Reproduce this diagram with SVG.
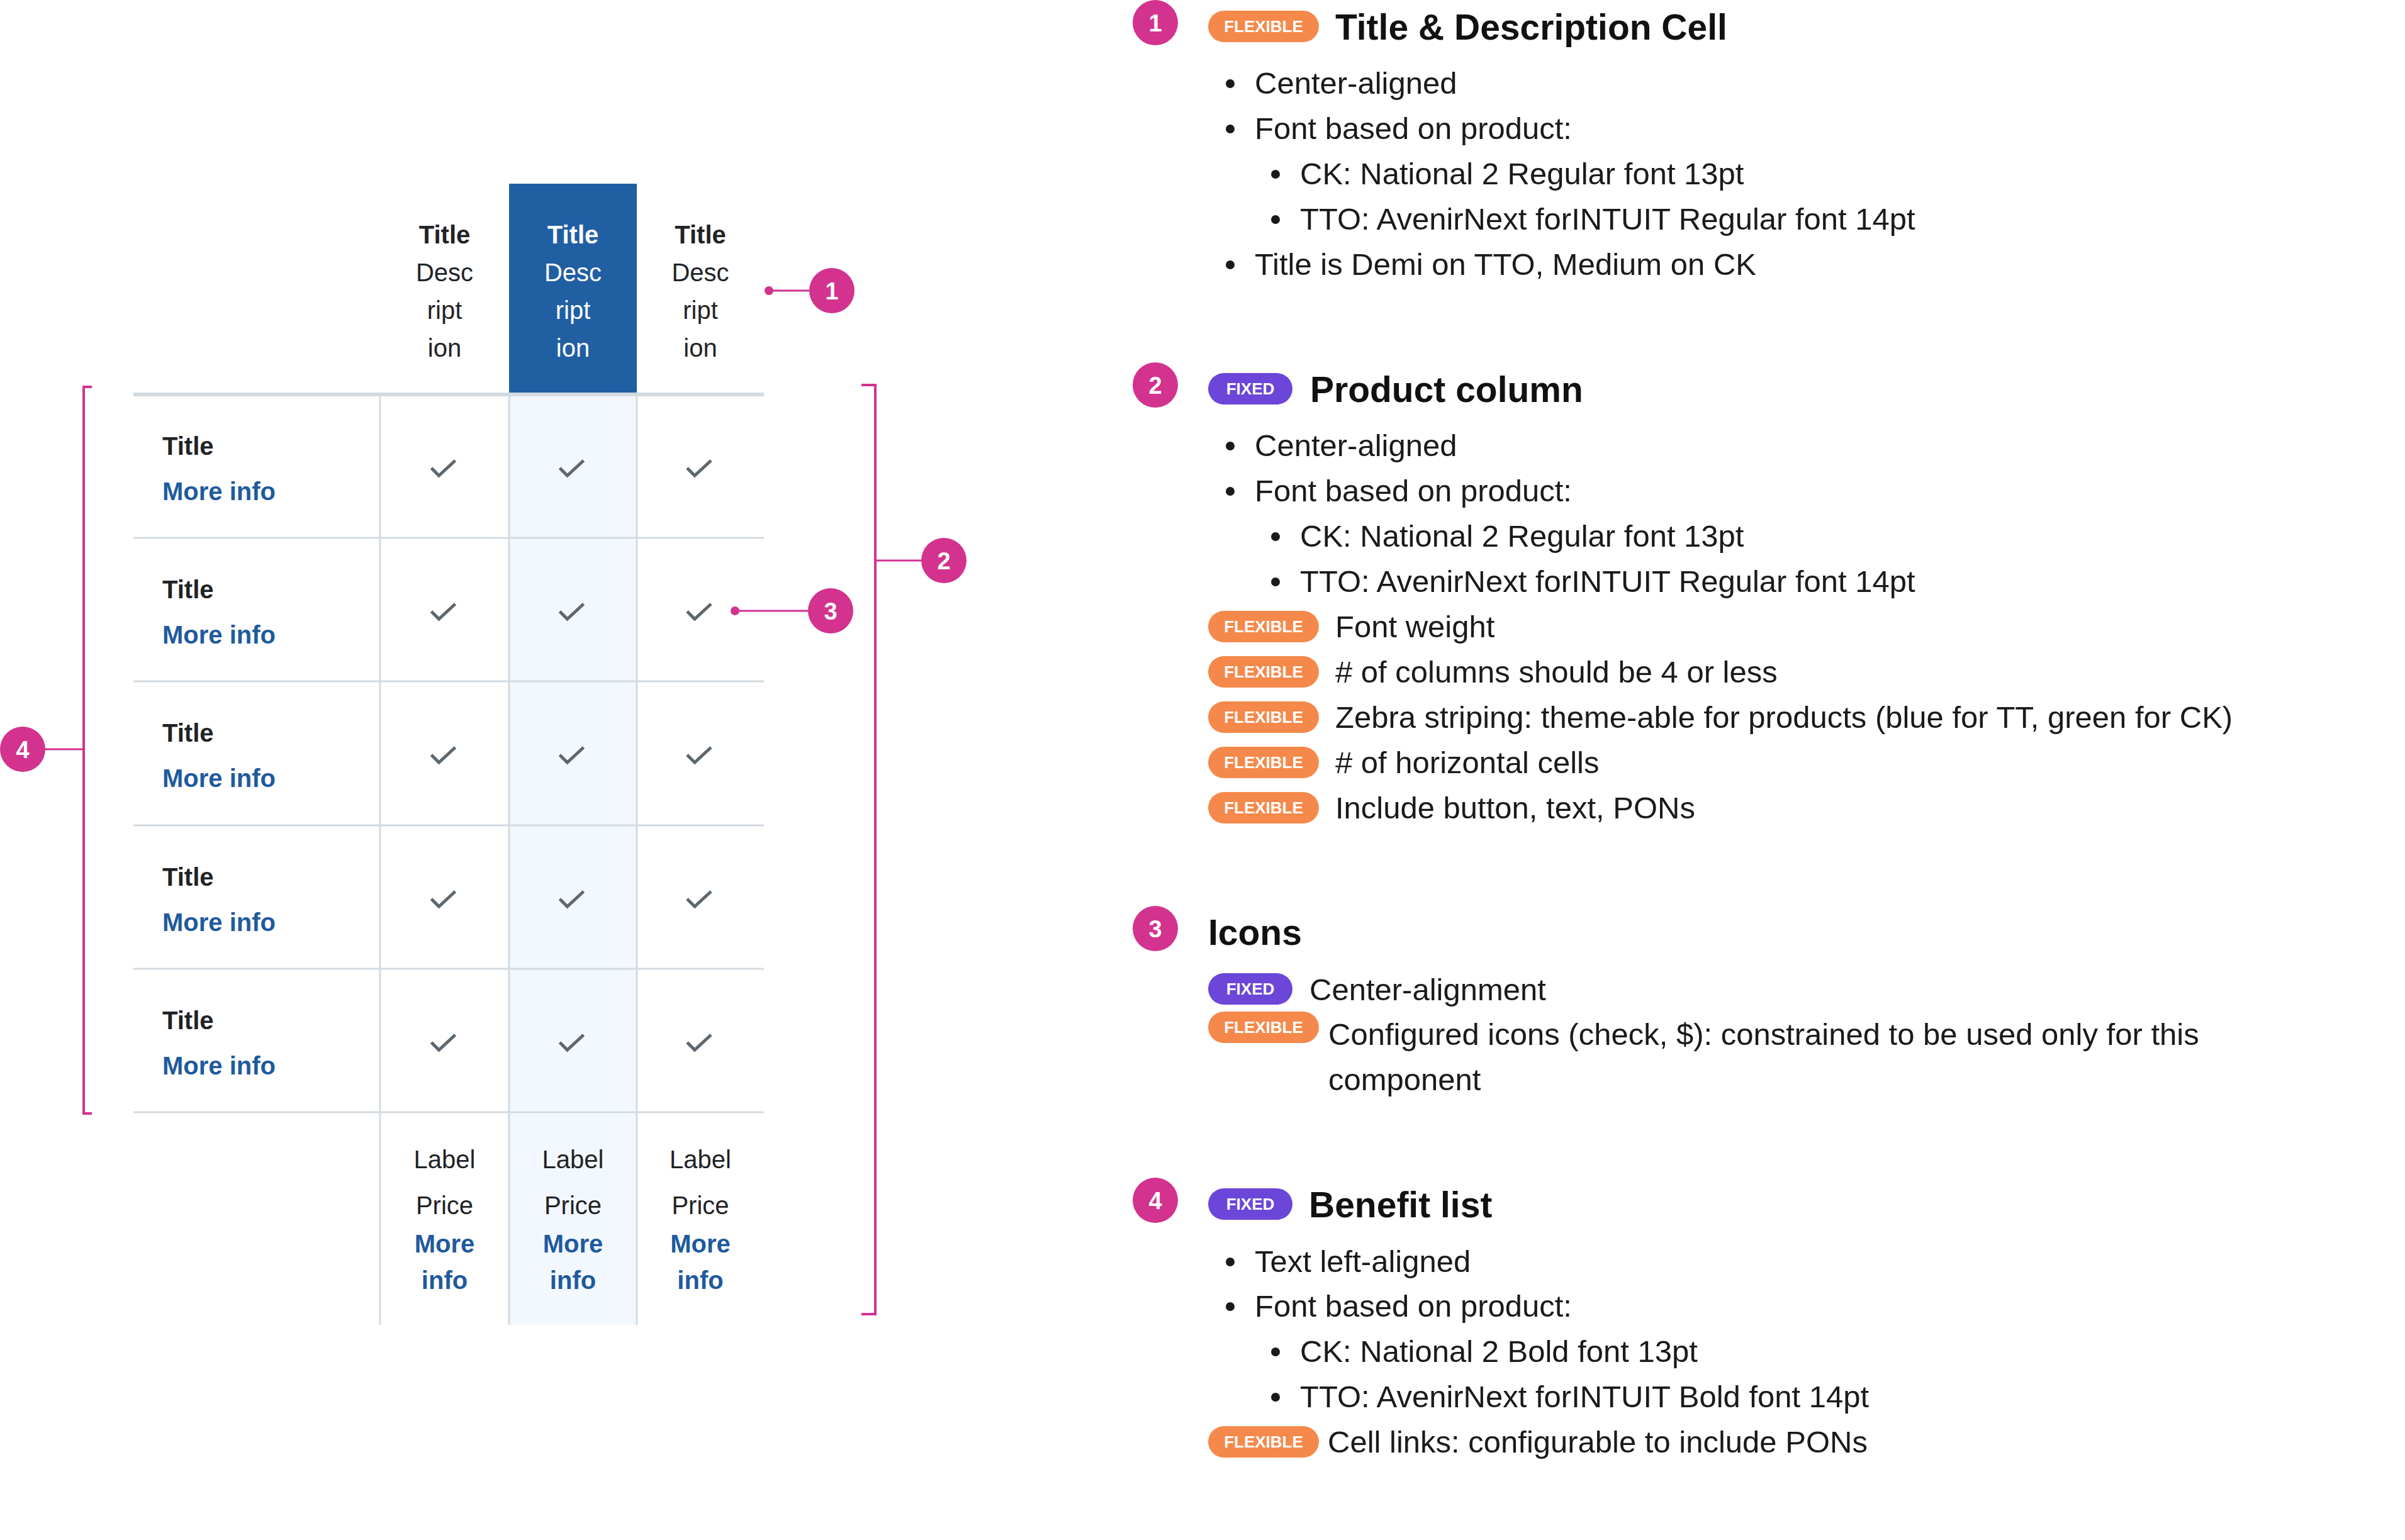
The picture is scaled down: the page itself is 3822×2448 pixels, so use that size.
<svg xmlns="http://www.w3.org/2000/svg" width="3822" height="2448" viewBox="0 0 3822 2448">
<defs>
<style>
text{font-family:"Liberation Sans",Arial,sans-serif}
.hd{font-size:40px;font-weight:700;fill:#1f2326;text-anchor:middle}
.ds{font-size:40px;fill:#1f2326;text-anchor:middle}
.w{fill:#ffffff}
.rt{font-size:40px;font-weight:700;fill:#1f2326}
.mi{font-size:40px;font-weight:700;fill:#1f5a9e}
.mic{font-size:40px;font-weight:700;fill:#1f5a9e;text-anchor:middle}
.grid{stroke:#d3dbe1;stroke-width:3;fill:none}
.chk{stroke:#5d6770;stroke-width:5;fill:none}
.pk{stroke:#d3328f;fill:none;stroke-width:3}
.pkf{fill:#d3328f}
.num{font-size:38px;font-weight:700;fill:#ffffff;text-anchor:middle}
.flex{fill:#f5894b}
.fix{fill:#6b46d8}
.bt{font-size:26px;font-weight:700;fill:#ffffff;text-anchor:middle}
.h2{font-size:57px;font-weight:700;fill:#111111}
.b{font-size:49px;fill:#1a1a1a}
.dot{fill:#1a1a1a}
</style>
<path id="chk" class="chk" d="M-21 3 L-9 15 L17 -9"/>
</defs>
<rect width="3822" height="2448" fill="#ffffff"/>

<g id="table">
  <rect x="809" y="292" width="203" height="335" fill="#215fa3"/>
  <rect x="809" y="627" width="203" height="1479" fill="#f3f8fe"/>
  <g id="grid">
    <line class="grid" x1="212" y1="627" x2="1214" y2="627" style="stroke-width:6"/>
    <line class="grid" x1="212" y1="855" x2="1214" y2="855"/>
    <line class="grid" x1="212" y1="1083" x2="1214" y2="1083"/>
    <line class="grid" x1="212" y1="1312" x2="1214" y2="1312"/>
    <line class="grid" x1="212" y1="1540" x2="1214" y2="1540"/>
    <line class="grid" x1="212" y1="1768" x2="1214" y2="1768"/>
    <line class="grid" x1="604" y1="627" x2="604" y2="2106"/>
    <line class="grid" x1="809" y1="627" x2="809" y2="2106"/>
    <line class="grid" x1="1012" y1="627" x2="1012" y2="2106"/>
  </g>
  <g id="header">
    <text class="hd" x="706.5" y="387">Title</text>
    <text class="ds" x="706.5" y="447">Desc</text>
    <text class="ds" x="706.5" y="507">ript</text>
    <text class="ds" x="706.5" y="567">ion</text>
    <text class="hd w" x="910.5" y="387">Title</text>
    <text class="ds w" x="910.5" y="447">Desc</text>
    <text class="ds w" x="910.5" y="507">ript</text>
    <text class="ds w" x="910.5" y="567">ion</text>
    <text class="hd" x="1113" y="387">Title</text>
    <text class="ds" x="1113" y="447">Desc</text>
    <text class="ds" x="1113" y="507">ript</text>
    <text class="ds" x="1113" y="567">ion</text>
  </g>
  <g id="rows">
    <text class="rt" x="258" y="723">Title</text>
    <text class="mi" x="258" y="795">More info</text>
    <text class="rt" x="258" y="951">Title</text>
    <text class="mi" x="258" y="1023">More info</text>
    <text class="rt" x="258" y="1179">Title</text>
    <text class="mi" x="258" y="1251">More info</text>
    <text class="rt" x="258" y="1408">Title</text>
    <text class="mi" x="258" y="1480">More info</text>
    <text class="rt" x="258" y="1636">Title</text>
    <text class="mi" x="258" y="1708">More info</text>
  </g>
  <g id="checks">
    <use href="#chk" x="706.5" y="741"/><use href="#chk" x="910.5" y="741"/><use href="#chk" x="1113" y="741"/>
    <use href="#chk" x="706.5" y="969"/><use href="#chk" x="910.5" y="969"/><use href="#chk" x="1113" y="969"/>
    <use href="#chk" x="706.5" y="1197"/><use href="#chk" x="910.5" y="1197"/><use href="#chk" x="1113" y="1197"/>
    <use href="#chk" x="706.5" y="1426"/><use href="#chk" x="910.5" y="1426"/><use href="#chk" x="1113" y="1426"/>
    <use href="#chk" x="706.5" y="1654"/><use href="#chk" x="910.5" y="1654"/><use href="#chk" x="1113" y="1654"/>
  </g>
  <g id="footer">
    <text class="ds" x="706.5" y="1857">Label</text>
    <text class="ds" x="706.5" y="1930">Price</text>
    <text class="mic" x="706.5" y="1991">More</text>
    <text class="mic" x="706.5" y="2049">info</text>
    <text class="ds" x="910.5" y="1857">Label</text>
    <text class="ds" x="910.5" y="1930">Price</text>
    <text class="mic" x="910.5" y="1991">More</text>
    <text class="mic" x="910.5" y="2049">info</text>
    <text class="ds" x="1113" y="1857">Label</text>
    <text class="ds" x="1113" y="1930">Price</text>
    <text class="mic" x="1113" y="1991">More</text>
    <text class="mic" x="1113" y="2049">info</text>
  </g>
</g>

<g id="connectors">
  <circle class="pkf" cx="1222" cy="462" r="7"/>
  <line class="pk" x1="1222" y1="462" x2="1290" y2="462"/>
  <circle class="pkf" cx="1168" cy="971" r="7"/>
  <line class="pk" x1="1168" y1="971" x2="1286" y2="971"/>
  <path class="pk" d="M1369 612 H1391 V2089 H1369" style="stroke-width:4"/>
  <line class="pk" x1="1391" y1="891" x2="1466" y2="891"/>
  <path class="pk" d="M146 615 H133 V1770 H146" style="stroke-width:4"/>
  <line class="pk" x1="70" y1="1191" x2="133" y2="1191"/>
</g>

<g id="callout-1"><circle class="pkf" cx="1322" cy="462" r="36"/><text class="num" x="1322" y="476">1</text></g>
<g id="callout-2"><circle class="pkf" cx="1500" cy="891" r="36"/><text class="num" x="1500" y="905">2</text></g>
<g id="callout-3"><circle class="pkf" cx="1320" cy="971" r="36"/><text class="num" x="1320" y="985">3</text></g>
<g id="callout-4"><circle class="pkf" cx="36" cy="1191" r="36"/><text class="num" x="36" y="1205">4</text></g>

<g id="note-1">
  <circle class="pkf" cx="1836" cy="36" r="36"/><text class="num" x="1836" y="50">1</text>
  <rect class="flex" x="1920" y="17" width="176" height="50" rx="25"/><text class="bt" x="2008" y="51">FLEXIBLE</text>
  <text class="h2" x="2122" y="63">Title &amp; Description Cell</text>
  <circle class="dot" cx="1955" cy="133" r="7"/><text class="b" x="1994" y="149">Center-aligned</text>
  <circle class="dot" cx="1955" cy="205" r="7"/><text class="b" x="1994" y="221">Font based on product:</text>
  <circle class="dot" cx="2027" cy="277" r="7"/><text class="b" x="2066" y="293">CK: National 2 Regular font 13pt</text>
  <circle class="dot" cx="2027" cy="349" r="7"/><text class="b" x="2066" y="365">TTO: AvenirNext forINTUIT Regular font 14pt</text>
  <circle class="dot" cx="1955" cy="421" r="7"/><text class="b" x="1994" y="437">Title is Demi on TTO, Medium on CK</text>
</g>

<g id="note-2">
  <circle class="pkf" cx="1836" cy="612" r="36"/><text class="num" x="1836" y="626">2</text>
  <rect class="fix" x="1920" y="593" width="134" height="50" rx="25"/><text class="bt" x="1987" y="627">FIXED</text>
  <text class="h2" x="2082" y="639">Product column</text>
  <circle class="dot" cx="1955" cy="709" r="7"/><text class="b" x="1994" y="725">Center-aligned</text>
  <circle class="dot" cx="1955" cy="781" r="7"/><text class="b" x="1994" y="797">Font based on product:</text>
  <circle class="dot" cx="2027" cy="853" r="7"/><text class="b" x="2066" y="869">CK: National 2 Regular font 13pt</text>
  <circle class="dot" cx="2027" cy="925" r="7"/><text class="b" x="2066" y="941">TTO: AvenirNext forINTUIT Regular font 14pt</text>
  <rect class="flex" x="1920" y="971" width="176" height="50" rx="25"/><text class="bt" x="2008" y="1005">FLEXIBLE</text>
  <text class="b" x="2122" y="1013">Font weight</text>
  <rect class="flex" x="1920" y="1043" width="176" height="50" rx="25"/><text class="bt" x="2008" y="1077">FLEXIBLE</text>
  <text class="b" x="2122" y="1085"># of columns should be 4 or less</text>
  <rect class="flex" x="1920" y="1115" width="176" height="50" rx="25"/><text class="bt" x="2008" y="1149">FLEXIBLE</text>
  <text class="b" x="2122" y="1157">Zebra striping: theme-able for products (blue for TT, green for CK)</text>
  <rect class="flex" x="1920" y="1187" width="176" height="50" rx="25"/><text class="bt" x="2008" y="1221">FLEXIBLE</text>
  <text class="b" x="2122" y="1229"># of horizontal cells</text>
  <rect class="flex" x="1920" y="1259" width="176" height="50" rx="25"/><text class="bt" x="2008" y="1293">FLEXIBLE</text>
  <text class="b" x="2122" y="1301">Include button, text, PONs</text>
</g>

<g id="note-3">
  <circle class="pkf" cx="1836" cy="1476" r="36"/><text class="num" x="1836" y="1490">3</text>
  <text class="h2" x="1920" y="1502">Icons</text>
  <rect class="fix" x="1920" y="1547" width="134" height="50" rx="25"/><text class="bt" x="1987" y="1581">FIXED</text>
  <text class="b" x="2081" y="1590">Center-alignment</text>
  <rect class="flex" x="1920" y="1608" width="176" height="50" rx="25"/><text class="bt" x="2008" y="1642">FLEXIBLE</text>
  <text class="b" x="2111" y="1661">Configured icons (check, $): constrained to be used only for this</text>
  <text class="b" x="2111" y="1733">component</text>
</g>

<g id="note-4">
  <circle class="pkf" cx="1836" cy="1908" r="36"/><text class="num" x="1836" y="1922">4</text>
  <rect class="fix" x="1920" y="1889" width="134" height="50" rx="25"/><text class="bt" x="1987" y="1923">FIXED</text>
  <text class="h2" x="2080" y="1935">Benefit list</text>
  <circle class="dot" cx="1955" cy="2006" r="7"/><text class="b" x="1994" y="2022">Text left-aligned</text>
  <circle class="dot" cx="1955" cy="2077" r="7"/><text class="b" x="1994" y="2093">Font based on product:</text>
  <circle class="dot" cx="2027" cy="2149" r="7"/><text class="b" x="2066" y="2165">CK: National 2 Bold font 13pt</text>
  <circle class="dot" cx="2027" cy="2221" r="7"/><text class="b" x="2066" y="2237">TTO: AvenirNext forINTUIT Bold font 14pt</text>
  <rect class="flex" x="1920" y="2267" width="176" height="50" rx="25"/><text class="bt" x="2008" y="2301">FLEXIBLE</text>
  <text class="b" x="2110" y="2309">Cell links: configurable to include PONs</text>
</g>
</svg>
